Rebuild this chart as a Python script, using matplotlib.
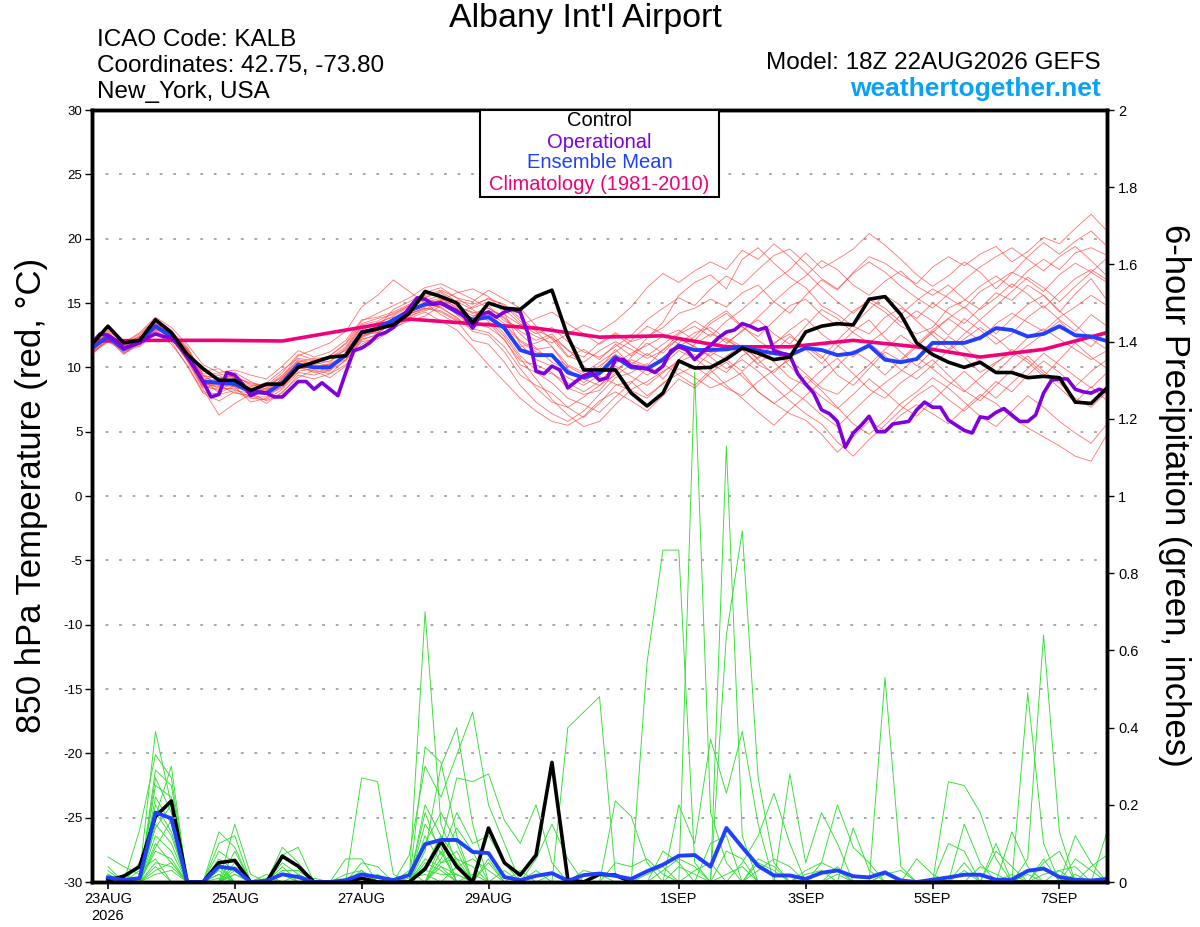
import matplotlib
matplotlib.use("Agg")
import matplotlib.pyplot as plt
import pandas as pd
from matplotlib.patches import Rectangle

plt.rcParams['font.family'] = ['Liberation Sans', 'DejaVu Sans']
plt.rcParams['axes.unicode_minus'] = False

# time axes: GEFS 6-hourly, operational 3-hourly, run 18Z 22AUG2026
times = pd.date_range("2026-08-22 18:00", periods=65, freq="6h")
times_op = pd.date_range("2026-08-22 18:00", periods=129, freq="3h")
clim_times = times[::4]

tick_dates = pd.to_datetime(["2026-08-23", "2026-08-25", "2026-08-27", "2026-08-29",
                             "2026-09-01", "2026-09-03", "2026-09-05", "2026-09-07"])
tick_labels = ["23AUG\n2026", "25AUG", "27AUG", "29AUG", "1SEP", "3SEP", "5SEP", "7SEP"]

# 850 hPa temperature (C)
control_t = [11.8, 13.2, 11.9, 12.1, 13.7, 12.7, 11.0, 9.9, 9.0, 9.0, 8.2, 8.7, 8.7,
             10.0, 10.4, 10.8, 10.9, 12.7, 13.0, 13.3, 14.2, 15.9, 15.5, 15.0, 13.45, 15.0,
             14.6, 14.5, 15.5, 16.0, 12.4, 9.8, 9.8, 9.8, 8.0, 7.0, 8.0, 10.5, 9.95,
             10.0, 10.65, 11.5, 11.1, 10.6, 10.8, 12.75, 13.2, 13.4, 13.3, 15.3, 15.5, 14.1,
             11.9, 11.0, 10.4, 10.0, 10.4, 9.6, 9.6, 9.2, 9.3, 9.2, 7.3, 7.2, 8.4]

mean_t = [11.5, 12.4, 11.4, 12.0, 13.2, 12.4, 10.95, 8.9, 8.8, 8.7, 8.1, 8.0, 8.8,
          10.2, 10.0, 10.0, 10.95, 12.75, 13.0, 13.7, 14.4, 14.9, 15.0, 14.3, 13.7, 13.9,
          13.05, 11.35, 10.95, 10.95, 9.6, 9.2, 9.55, 10.8, 10.0, 9.9, 10.6, 11.7, 11.35,
          11.35, 11.4, 11.6, 11.3, 11.1, 10.95, 11.5, 11.35, 10.95, 11.1, 11.7, 10.6, 10.4,
          10.65, 11.9, 11.9, 11.9, 12.3, 13.05, 12.9, 12.4, 12.6, 13.2, 12.5, 12.4, 12.05]

oper_t = [11.9, 12.6, 12.5, 12.1, 11.5, 11.7, 11.9, 12.3, 12.6, 12.4, 12.3, 11.7, 10.8,
          9.9, 8.9, 7.7, 7.9, 9.6, 9.4, 8.7, 7.8, 8.1, 8.0, 7.7, 7.7, 8.3,
          8.9, 8.9, 8.3, 8.8, 8.3, 7.8, 9.6, 11.3, 11.5, 11.9, 12.5, 12.7, 13.1,
          13.8, 14.6, 15.4, 15.3, 14.9, 15.0, 14.7, 14.4, 13.9, 13.05, 14.1, 14.3, 13.9,
          14.3, 14.5, 14.3, 12.6, 9.7, 9.5, 10.1, 9.8, 8.4, 8.9, 9.35, 9.6, 9.0,
          9.2, 10.6, 10.6, 10.1, 10.0, 9.9, 9.6, 10.1, 11.3, 11.6, 11.35, 10.6, 11.2,
          11.7, 12.3, 12.75, 12.9, 13.4, 13.2, 12.9, 13.1, 11.3, 11.1, 10.95, 9.5, 8.7,
          8.0, 6.7, 6.4, 5.8, 3.8, 4.9, 5.5, 6.2, 5.0, 5.0, 5.6, 5.7, 5.8,
          6.7, 7.3, 6.9, 6.9, 5.9, 5.5, 5.1, 4.9, 6.15, 6.05, 6.5, 6.8, 6.3,
          5.8, 5.8, 6.3, 8.0, 9.0, 9.1, 9.1, 8.3, 8.1, 8.0, 8.3, 8.1]

clim_t = [12.05, 12.1, 12.1, 12.05, 12.9, 13.75, 13.4, 13.05, 12.35, 12.45, 11.6, 11.6,
          12.1, 11.6, 10.8, 11.4, 12.7]

# ensemble members (temperature)
t_m01 = [11.2, 12.0, 11.6, 12.3, 13.4, 12.6, 10.8, 8.6, 8.2, 8.9, 8.4, 7.9, 9.2,
         10.6, 10.3, 10.9, 11.8, 13.4, 13.8, 14.1, 14.8, 15.2, 15.6, 14.8, 14.2, 14.6,
         13.9, 12.8, 12.1, 12.6, 11.3, 10.8, 11.9, 12.7, 12.0, 12.4, 13.1, 14.2, 14.6,
         15.3, 14.7, 15.8, 16.4, 15.1, 14.2, 15.6, 16.8, 16.0, 17.4, 18.6, 18.1, 17.2,
         16.5, 17.8, 18.6, 17.9, 18.8, 19.4, 18.2, 19.0, 20.1, 19.6, 20.8, 21.9, 20.6]
t_m02 = [11.8, 12.6, 11.1, 11.7, 12.9, 12.0, 10.1, 8.0, 7.4, 8.1, 7.6, 7.5, 8.3,
         9.6, 9.4, 9.8, 10.5, 12.1, 12.6, 13.6, 14.4, 15.1, 14.6, 13.9, 12.8, 12.5,
         11.2, 9.4, 8.6, 8.0, 6.9, 6.1, 7.2, 8.6, 8.9, 7.8, 8.7, 9.9, 9.2,
         8.4, 8.9, 9.6, 8.1, 7.2, 6.4, 5.9, 4.8, 3.4, 4.6, 5.8, 5.1, 6.3,
         7.1, 6.4, 5.6, 6.8, 7.9, 7.2, 6.1, 5.3, 4.6, 3.9, 3.1, 2.7, 4.8]
t_m03 = [11.0, 12.2, 11.8, 12.4, 13.0, 12.8, 11.6, 9.4, 9.1, 9.3, 8.7, 8.6, 9.6,
         11.0, 10.6, 10.4, 11.5, 13.2, 13.1, 14.5, 15.1, 15.8, 16.2, 15.4, 15.1, 16.0,
         15.3, 14.6, 13.2, 12.2, 10.8, 11.4, 10.6, 11.8, 10.9, 12.3, 13.5, 15.6, 16.6,
         17.2, 16.1, 18.4, 19.3, 18.1, 17.0, 16.2, 14.8, 14.1, 13.2, 12.6, 13.9, 14.6,
         13.8, 15.0, 14.2, 13.4, 14.6, 15.8, 15.2, 16.4, 15.6, 14.3, 15.7, 16.9, 15.2]
t_m04 = [11.4, 12.8, 11.5, 11.9, 13.5, 12.3, 10.5, 8.3, 6.3, 7.2, 7.9, 7.2, 8.1,
         9.2, 9.8, 9.5, 10.2, 11.8, 12.4, 13.2, 13.9, 14.6, 14.3, 13.6, 12.1, 11.8,
         10.4, 8.6, 7.3, 6.4, 5.8, 6.6, 7.9, 9.2, 9.6, 10.3, 9.1, 10.6, 11.8,
         12.6, 12.1, 11.4, 10.2, 9.6, 10.8, 11.7, 10.9, 9.4, 8.6, 9.9, 11.2, 10.5,
         11.6, 12.8, 11.9, 10.8, 9.6, 10.4, 11.1, 12.3, 13.0, 12.2, 11.4, 10.6, 11.3]
t_m05 = [11.6, 12.1, 11.9, 12.6, 13.8, 12.9, 11.3, 9.2, 8.9, 9.6, 8.9, 8.3, 9.0,
         10.4, 10.7, 10.8, 11.3, 12.9, 13.5, 13.9, 14.2, 14.5, 15.2, 15.8, 16.1, 15.5,
         14.2, 11.8, 10.6, 10.1, 9.2, 8.6, 9.4, 10.3, 11.1, 11.7, 12.4, 12.9, 12.1,
         13.4, 14.2, 13.1, 12.4, 13.6, 14.8, 15.3, 14.1, 13.2, 14.4, 15.1, 14.3, 13.2,
         12.6, 13.1, 14.6, 15.2, 16.3, 17.1, 16.2, 17.5, 18.4, 17.6, 18.9, 19.3, 18.7]
t_m06 = [11.3, 12.3, 11.2, 11.8, 13.1, 12.1, 10.9, 9.0, 9.4, 8.5, 7.3, 7.6, 8.6,
         10.0, 9.7, 9.2, 10.1, 12.4, 12.9, 13.5, 14.6, 15.4, 15.9, 15.1, 14.5, 13.6,
         12.4, 10.7, 9.1, 7.5, 6.3, 5.4, 5.8, 7.1, 8.3, 8.9, 9.7, 10.4, 11.0,
         10.3, 9.6, 10.9, 11.6, 10.4, 9.2, 8.6, 9.8, 10.7, 9.5, 8.3, 7.6, 8.8,
         9.7, 10.6, 9.4, 8.2, 7.4, 8.6, 9.8, 10.9, 9.7, 8.8, 7.6, 6.9, 8.1]
t_m07 = [11.9, 12.5, 11.7, 12.1, 13.3, 12.5, 11.1, 8.8, 8.6, 8.0, 7.8, 8.4, 9.3,
         10.9, 11.4, 11.9, 12.8, 14.7, 15.6, 16.8, 15.9, 15.0, 14.1, 13.4, 13.9, 14.8,
         13.6, 13.1, 12.4, 11.9, 12.6, 13.3, 12.8, 13.6, 14.7, 16.2, 17.3, 16.6, 17.5,
         18.2, 17.6, 19.1, 18.4, 19.6, 18.6, 17.4, 16.2, 15.1, 14.2, 15.3, 14.6, 13.5,
         14.4, 13.6, 12.5, 13.8, 12.9, 11.8, 12.6, 13.9, 14.8, 13.7, 12.8, 14.1, 13.2]
t_m08 = [11.1, 12.0, 11.3, 12.2, 12.8, 12.2, 10.6, 8.5, 8.3, 8.4, 8.2, 7.9, 8.4,
         9.9, 10.1, 10.2, 10.8, 12.2, 12.5, 13.1, 13.6, 14.0, 14.8, 15.2, 14.9, 15.3,
         14.9, 13.8, 12.9, 12.3, 11.4, 10.1, 9.3, 8.7, 8.2, 7.6, 8.8, 9.5, 10.1,
         9.2, 8.4, 7.8, 8.9, 9.8, 10.6, 9.5, 8.4, 7.9, 9.1, 10.2, 11.4, 12.5,
         11.6, 12.7, 13.8, 12.9, 12.1, 13.4, 14.2, 13.5, 12.8, 13.9, 14.7, 15.6, 14.8]
t_m09 = [11.7, 12.2, 11.0, 12.0, 13.0, 12.4, 11.4, 9.7, 9.9, 9.1, 8.5, 8.8, 9.8,
         10.7, 10.5, 10.9, 11.9, 13.6, 14.2, 14.8, 15.4, 16.2, 16.5, 15.9, 15.3, 14.6,
         13.8, 12.6, 11.5, 10.4, 9.8, 9.1, 8.6, 9.8, 10.6, 10.1, 11.4, 12.2, 11.6,
         10.9, 11.8, 12.9, 13.7, 12.6, 11.8, 13.2, 14.5, 13.8, 12.7, 11.9, 12.8, 14.1,
         15.2, 16.1, 15.4, 14.6, 15.9, 16.6, 17.4, 16.8, 15.9, 17.2, 18.1, 17.4, 16.6]
t_m10 = [11.5, 12.7, 11.6, 11.6, 12.7, 11.8, 10.2, 8.1, 7.9, 8.2, 8.0, 7.4, 8.0,
         9.4, 9.1, 9.5, 10.6, 12.0, 12.2, 13.0, 13.8, 14.3, 13.6, 12.9, 11.6, 10.2,
         8.9, 7.6, 6.6, 5.8, 5.5, 6.2, 7.4, 8.1, 7.4, 6.6, 7.8, 9.1, 8.4,
         9.6, 10.4, 9.3, 8.1, 7.2, 8.1, 9.3, 8.2, 6.9, 5.6, 4.8, 5.9, 7.2,
         8.1, 9.2, 8.4, 7.3, 6.2, 5.4, 6.6, 7.8, 6.9, 5.8, 4.9, 4.1, 5.6]
t_m11 = [11.0, 12.4, 11.9, 12.7, 13.9, 13.1, 11.8, 10.2, 9.6, 9.8, 9.4, 9.1, 10.1,
         11.3, 10.8, 11.2, 12.1, 13.7, 13.9, 14.3, 14.9, 15.3, 15.0, 14.4, 13.6, 14.1,
         12.9, 11.6, 11.9, 12.4, 10.9, 10.4, 11.3, 12.0, 11.4, 10.7, 11.3, 12.6, 13.2,
         12.4, 13.6, 14.5, 15.6, 16.7, 17.6, 18.9, 17.7, 18.4, 19.2, 20.4, 19.5, 18.4,
         17.2, 16.3, 17.1, 18.2, 17.4, 16.1, 17.3, 18.6, 19.7, 18.8, 19.8, 20.6, 19.4]
t_m12 = [11.2, 12.1, 11.4, 11.9, 13.2, 12.7, 11.2, 9.1, 8.0, 8.6, 8.1, 8.0, 8.5,
         9.7, 9.9, 9.9, 10.9, 12.6, 12.7, 13.4, 14.1, 14.7, 15.3, 14.7, 14.3, 13.9,
         12.6, 10.9, 9.8, 9.5, 8.8, 8.1, 8.9, 10.1, 9.3, 8.6, 9.6, 10.6, 9.9,
         11.2, 10.6, 9.7, 10.8, 11.9, 12.6, 11.4, 10.3, 11.6, 12.8, 13.7, 12.3, 11.2,
         10.1, 11.3, 12.4, 11.6, 10.4, 9.6, 10.8, 11.7, 12.6, 13.6, 12.4, 11.6, 12.9]
t_m13 = [11.6, 12.9, 11.8, 12.3, 13.6, 12.2, 10.7, 8.4, 8.7, 9.0, 8.3, 8.2, 9.1,
         10.3, 10.0, 9.7, 11.2, 12.9, 12.8, 13.8, 14.5, 15.0, 15.4, 14.6, 14.0, 14.3,
         13.4, 12.1, 11.4, 11.6, 10.2, 9.6, 10.4, 11.2, 12.1, 13.2, 12.6, 11.8, 10.6,
         11.4, 12.3, 11.6, 10.7, 11.8, 12.9, 13.8, 12.6, 11.7, 10.8, 11.9, 10.9, 9.8,
         9.1, 10.2, 11.3, 12.2, 13.1, 12.3, 11.2, 10.4, 9.3, 10.6, 11.9, 10.8, 9.9]
t_m14 = [11.3, 12.4, 11.4, 12.0, 13.1, 12.5, 11.2, 9.3, 9.2, 9.4, 8.6, 8.5, 9.4,
         10.5, 10.2, 10.5, 11.4, 13.1, 13.4, 14.0, 14.7, 15.5, 15.8, 14.9, 13.4, 13.1,
         12.2, 10.2, 9.6, 8.8, 7.6, 7.1, 6.5, 7.7, 8.8, 9.9, 10.8, 11.6, 12.4,
         13.6, 14.4, 13.2, 12.1, 11.3, 10.1, 8.8, 7.7, 6.8, 7.9, 9.1, 8.1, 7.0,
         6.2, 7.4, 8.6, 9.7, 8.6, 7.6, 8.8, 9.9, 11.1, 10.2, 9.3, 8.4, 9.6]
t_m15 = [11.8, 12.3, 11.1, 11.9, 13.4, 12.4, 10.9, 8.7, 8.5, 8.8, 8.0, 8.1, 8.9,
         10.1, 9.6, 9.9, 11.1, 12.7, 13.2, 13.6, 14.3, 14.8, 15.1, 14.1, 13.2, 14.4,
         14.1, 13.3, 13.8, 14.3, 13.4, 12.6, 11.8, 12.6, 11.7, 10.9, 11.8, 12.7, 13.6,
         12.8, 11.9, 12.8, 13.9, 15.1, 16.2, 17.1, 18.3, 17.6, 16.4, 15.6, 16.7, 17.5,
         16.3, 15.6, 16.4, 15.3, 14.5, 15.4, 16.5, 15.7, 14.6, 15.8, 16.9, 17.6, 16.8]
t_m16 = [11.4, 12.2, 11.6, 12.2, 13.3, 12.3, 10.6, 8.9, 9.1, 8.8, 8.4, 8.3, 8.6,
         10.0, 10.4, 10.1, 10.6, 12.4, 13.0, 13.7, 14.6, 14.9, 14.7, 13.8, 13.0, 12.7,
         11.6, 9.9, 8.4, 7.3, 6.9, 7.7, 8.6, 9.4, 10.2, 11.1, 10.3, 9.4, 8.6,
         9.8, 10.9, 11.7, 10.6, 9.4, 8.3, 7.4, 6.3, 5.4, 6.6, 7.8, 8.8, 9.7,
         10.8, 9.9, 8.9, 8.1, 9.2, 10.3, 11.4, 10.6, 9.5, 8.4, 7.3, 8.5, 7.4]
t_m17 = [11.5, 12.6, 11.3, 12.1, 13.2, 12.4, 11.0, 8.8, 8.4, 8.3, 7.7, 7.7, 8.8,
         10.2, 10.3, 10.7, 11.6, 13.3, 13.6, 14.2, 14.8, 15.6, 16.0, 15.4, 14.6, 15.1,
         14.5, 13.4, 12.6, 13.1, 12.0, 11.2, 10.8, 11.6, 12.5, 13.7, 14.6, 15.4, 14.8,
         16.1, 17.1, 16.4, 17.6, 18.7, 19.2, 18.1, 16.9, 16.1, 17.3, 18.2, 17.4, 16.3,
         15.4, 14.6, 15.7, 16.8, 17.8, 18.6, 19.3, 18.4, 17.5, 18.6, 19.4, 18.3, 17.1]
t_m18 = [11.7, 12.4, 11.5, 11.8, 12.9, 12.6, 11.5, 9.5, 9.5, 9.2, 8.8, 8.6, 9.2,
         10.4, 9.9, 10.3, 10.9, 12.3, 12.9, 13.3, 14.0, 14.4, 14.9, 14.2, 14.7, 15.4,
         14.8, 13.6, 12.8, 11.6, 9.9, 8.8, 9.9, 11.4, 10.2, 9.4, 10.2, 11.3, 10.7,
         9.8, 8.6, 7.6, 6.5, 5.5, 6.7, 7.8, 8.9, 10.1, 11.3, 10.5, 9.4, 10.6,
         11.8, 12.9, 13.8, 14.7, 13.6, 12.6, 13.8, 14.9, 15.6, 14.4, 13.3, 12.2, 11.4]
t_m19 = [11.2, 12.5, 11.7, 12.5, 13.7, 12.8, 11.4, 9.4, 8.6, 8.5, 8.1, 8.4, 9.0,
         10.3, 10.1, 10.0, 10.8, 12.5, 12.7, 13.5, 14.2, 14.6, 14.4, 13.7, 13.1, 13.5,
         12.1, 10.5, 10.2, 9.6, 8.4, 7.9, 8.2, 9.6, 10.8, 11.9, 11.1, 12.3, 11.6,
         10.8, 9.9, 10.6, 9.7, 8.5, 7.4, 6.4, 5.6, 4.2, 3.1, 4.4, 5.5, 6.7,
         7.8, 8.6, 7.5, 6.6, 7.7, 8.9, 8.1, 9.4, 10.5, 9.6, 8.5, 9.7, 10.6]
t_m20 = [11.5, 12.3, 11.4, 12.4, 13.0, 12.3, 10.8, 8.6, 8.8, 8.9, 8.3, 8.1, 8.7,
         10.1, 10.0, 10.2, 11.0, 12.8, 13.1, 13.8, 14.5, 15.0, 15.2, 14.5, 13.8, 14.1,
         13.2, 12.0, 11.2, 10.9, 10.1, 9.4, 10.1, 11.0, 10.4, 10.0, 10.7, 11.9, 12.7,
         13.1, 12.2, 11.4, 10.3, 11.2, 12.4, 11.6, 10.7, 12.1, 13.3, 14.5, 15.6, 14.8,
         13.6, 12.5, 11.4, 12.6, 13.7, 14.8, 15.9, 17.0, 16.2, 15.1, 16.3, 17.4, 18.5]

temp_members = [t_m01, t_m02, t_m03, t_m04, t_m05, t_m06, t_m07, t_m08, t_m09, t_m10,
                t_m11, t_m12, t_m13, t_m14, t_m15, t_m16, t_m17, t_m18, t_m19, t_m20]

# 6-hour precipitation (inches), valid from 00Z 23AUG
control_p = [0.005, 0.015, 0.04, 0.17, 0.21, 0.0, 0.0, 0.05, 0.056, 0.0, 0.0, 0.067, 0.041,
             0.0, 0.0, 0.0, 0.01, 0.0, 0.0, 0.0, 0.034, 0.105, 0.04, 0.0, 0.14, 0.05,
             0.018, 0.07, 0.31, 0.007, 0.0, 0.02, 0.018, 0.0, 0.0, 0.0, 0.0, 0.0,
             0.0, 0.0, 0.0, 0.0, 0.0, 0.0, 0.0, 0.0, 0.0, 0.0, 0.0, 0.0, 0.0,
             0.0, 0.0, 0.0, 0.0, 0.0, 0.0, 0.0, 0.0, 0.0, 0.0, 0.0, 0.0, 0.0]
mean_p = [0.012, 0.005, 0.01, 0.18, 0.165, 0.0, 0.0, 0.04, 0.034, 0.0, 0.003, 0.02, 0.013,
          0.0, 0.0, 0.005, 0.02, 0.013, 0.005, 0.018, 0.098, 0.109, 0.109, 0.078, 0.075, 0.013,
          0.005, 0.016, 0.023, 0.003, 0.018, 0.022, 0.016, 0.008, 0.028, 0.045, 0.068, 0.07,
          0.04, 0.14, 0.09, 0.042, 0.017, 0.017, 0.008, 0.024, 0.03, 0.015, 0.012, 0.025, 0.004,
          0.0, 0.006, 0.012, 0.019, 0.019, 0.006, 0.006, 0.029, 0.035, 0.013, 0.006, 0.004, 0.008]

# ensemble members (precip), only the non-zero steps: {step: inches}
p_m01 = {1: 0.065, 2: 0.04, 3: 0.02, 4: 0.39, 5: 0.2, 8: 0.06, 9: 0.03, 21: 0.70, 22: 0.15,
         23: 0.05, 38: 1.32, 39: 0.18, 40: 0.05, 50: 0.02}
p_m02 = {3: 0.135, 4: 0.33, 5: 0.27, 9: 0.15, 10: 0.02, 21: 0.35, 22: 0.31, 23: 0.12,
         30: 0.40, 31: 0.44, 32: 0.48, 33: 0.02, 40: 1.13, 41: 0.12, 59: 0.49, 60: 0.1}
p_m03 = {1: 0.03, 4: 0.29, 5: 0.25, 8: 0.13, 9: 0.09, 12: 0.09, 13: 0.05, 17: 0.27, 18: 0.26,
         19: 0.02, 21: 0.08, 22: 0.3, 23: 0.40, 24: 0.15, 35: 0.57, 36: 0.86, 37: 0.86, 38: 0.05}
p_m04 = {4: 0.25, 5: 0.22, 8: 0.1, 9: 0.12, 12: 0.07, 13: 0.09, 20: 0.07, 21: 0.3, 22: 0.22,
         23: 0.33, 24: 0.44, 25: 0.2, 26: 0.1, 40: 0.64, 41: 0.91, 42: 0.27, 43: 0.05}
p_m05 = {2: 0.02, 4: 0.22, 5: 0.15, 8: 0.08, 9: 0.05, 11: 0.02, 16: 0.06, 17: 0.06, 22: 0.1,
         23: 0.27, 24: 0.26, 25: 0.28, 26: 0.16, 27: 0.1, 28: 0.2, 29: 0.05, 50: 0.53, 51: 0.04}
p_m06 = {4: 0.2, 5: 0.13, 9: 0.03, 12: 0.04, 17: 0.05, 18: 0.04, 21: 0.18, 22: 0.07, 23: 0.18,
         24: 0.1, 25: 0.12, 26: 0.05, 37: 0.2, 38: 0.1, 39: 0.37, 40: 0.23, 41: 0.39, 42: 0.15,
         59: 0.06, 60: 0.64, 61: 0.13}
p_m07 = {1: 0.02, 3: 0.05, 4: 0.17, 5: 0.3, 8: 0.04, 12: 0.03, 13: 0.03, 21: 0.12, 22: 0.05,
         23: 0.08, 25: 0.06, 28: 0.06, 29: 0.15, 30: 0.06, 33: 0.21, 34: 0.17, 35: 0.05,
         44: 0.28, 45: 0.05, 46: 0.18, 47: 0.1}
p_m08 = {4: 0.15, 5: 0.1, 8: 0.02, 16: 0.02, 17: 0.03, 20: 0.03, 22: 0.05, 23: 0.06, 24: 0.04,
         27: 0.03, 41: 0.05, 42: 0.12, 43: 0.23, 44: 0.1, 54: 0.26, 55: 0.25, 56: 0.18, 57: 0.06}
p_m09 = {4: 0.12, 5: 0.08, 9: 0.05, 13: 0.02, 21: 0.04, 22: 0.12, 23: 0.06, 26: 0.03, 46: 0.05,
         47: 0.2, 48: 0.09, 49: 0.05, 55: 0.15, 56: 0.05, 58: 0.13, 59: 0.04, 62: 0.12, 63: 0.05}
p_m10 = {4: 0.1, 5: 0.05, 8: 0.03, 12: 0.02, 18: 0.02, 21: 0.06, 22: 0.04, 36: 0.03, 37: 0.06,
         38: 0.04, 48: 0.14, 49: 0.03, 54: 0.1, 55: 0.08, 57: 0.1, 60: 0.05, 61: 0.08, 64: 0.13}
p_m11 = {1: 0.04, 4: 0.05, 5: 0.04, 9: 0.02, 11: 0.01, 21: 0.03, 22: 0.02, 23: 0.02, 33: 0.05,
         34: 0.04, 35: 0.06, 36: 0.02, 42: 0.03, 43: 0.06, 44: 0.04, 52: 0.06, 53: 0.02,
         63: 0.04, 64: 0.07}
p_m12 = {4: 0.08, 5: 0.06, 8: 0.02, 14: 0.01, 17: 0.03, 22: 0.08, 24: 0.02, 31: 0.03, 32: 0.02,
         38: 0.03, 39: 0.05, 45: 0.03, 46: 0.05, 47: 0.03, 56: 0.04, 57: 0.02, 61: 0.03, 62: 0.04}
p_m13 = {3: 0.03, 4: 0.06, 9: 0.02, 21: 0.05, 22: 0.03, 40: 0.02, 41: 0.04, 50: 0.02, 51: 0.03,
         59: 0.02}
p_m14 = {4: 0.03, 5: 0.05, 12: 0.02, 23: 0.04, 24: 0.06, 25: 0.03, 35: 0.02, 36: 0.04, 47: 0.02,
         55: 0.03}
p_m15 = {2: 0.01, 4: 0.04, 8: 0.01, 20: 0.01, 21: 0.02, 29: 0.02, 30: 0.01, 42: 0.05, 43: 0.03,
         53: 0.01, 60: 0.02, 61: 0.03}
p_m16 = {4: 0.02, 5: 0.03, 22: 0.04, 23: 0.02, 37: 0.04, 38: 0.02, 45: 0.02, 46: 0.03, 58: 0.02,
         62: 0.02}
p_m17 = {4: 0.18, 5: 0.12, 9: 0.08, 17: 0.02, 21: 0.1, 22: 0.18, 23: 0.1, 40: 0.08, 41: 0.06,
         55: 0.05}
p_m18 = {1: 0.02, 4: 0.27, 5: 0.18, 8: 0.05, 21: 0.2, 22: 0.12, 25: 0.05, 39: 0.1, 40: 0.12,
         47: 0.04, 60: 0.06}
p_m19 = {4: 0.14, 5: 0.2, 12: 0.05, 13: 0.02, 22: 0.06, 23: 0.14, 24: 0.08, 36: 0.08, 37: 0.05,
         57: 0.08, 58: 0.04}
p_m20 = {4: 0.09, 5: 0.16, 9: 0.04, 21: 0.15, 22: 0.09, 28: 0.03, 42: 0.06, 43: 0.04, 62: 0.06,
         63: 0.03}

precip_members = [p_m01, p_m02, p_m03, p_m04, p_m05, p_m06, p_m07, p_m08, p_m09, p_m10,
                  p_m11, p_m12, p_m13, p_m14, p_m15, p_m16, p_m17, p_m18, p_m19, p_m20]

RED = "#ff4444"
GREEN = "#33dd33"
PURPLE = "#8000dd"
BLUE = "#2040ff"
PINK = "#f0007a"
SKY = "#0aa2f5"

fig = plt.figure(figsize=(12, 9.27), dpi=100)
ax = fig.add_axes([0.0767, 0.0485, 0.8458, 0.8328])
ax2 = ax.twinx()
ax.set_zorder(2)
ax.patch.set_visible(False)
ax2.set_zorder(1)

# precipitation (right axis)
p_times = times[1:]
for m in precip_members:
    vals = [m.get(i, 0.0) for i in range(1, 65)]
    ax2.plot(p_times, vals, color=GREEN, lw=0.65)
ax2.plot(p_times, control_p, color="black", lw=2.6)
ax2.plot(p_times, mean_p, color=BLUE, lw=2.8)

# temperature (left axis)
for m in temp_members:
    ax.plot(times, m, color=RED, lw=0.6, alpha=0.75)
ax.plot(clim_times, clim_t, color=PINK, lw=2.6)
ax.plot(times, mean_t, color=BLUE, lw=2.8)
ax.plot(times_op, oper_t, color=PURPLE, lw=2.6)
ax.plot(times, control_t, color="black", lw=2.6)

ax.set_xlim(times[0], times[-1])
ax.set_ylim(-30, 30)
ax.set_yticks(range(-30, 31, 5))
ax.grid(axis="y", color="#a0a0a0", linestyle=(0, (1.5, 6)), lw=1.3)
ax2.set_ylim(0, 2)
ax2.set_yticks([0, 0.2, 0.4, 0.6, 0.8, 1.0, 1.2, 1.4, 1.6, 1.8, 2.0])
ax2.set_yticklabels(["0", "0.2", "0.4", "0.6", "0.8", "1", "1.2", "1.4", "1.6", "1.8", "2"])

ax.set_xticks(tick_dates)
ax.set_xticklabels(tick_labels, fontsize=10.5, linespacing=1.25)
ax.tick_params(axis="x", direction="out", length=5, width=1.2, pad=2)
ax.tick_params(axis="y", direction="out", length=5, width=1.0, labelsize=9.5, pad=2)
ax2.tick_params(axis="y", direction="out", length=5, width=1.0, labelsize=10.5, pad=3)
for a in (ax, ax2):
    for s in a.spines.values():
        s.set_linewidth(2.5)

# legend box
box = Rectangle((0.4, 0.7875), 0.199, 0.0938, transform=fig.transFigure,
                facecolor="white", edgecolor="black", lw=1.5, zorder=5)
fig.patches.append(box)
leg = [("Control", "black", 121), ("Operational", PURPLE, 142),
       ("Ensemble Mean", BLUE, 163), ("Climatology (1981-2010)", PINK, 185)]
for txt, col, ypx in leg:
    fig.text(0.4995, 1 - ypx / 927, txt, color=col, fontsize=14.5,
             ha="center", va="center", zorder=6)

# header
fig.text(0.4875, 1 - 19 / 927, "Albany Int'l Airport", fontsize=24.5, ha="center", va="center")
fig.text(97 / 1200, 1 - 40 / 927, "ICAO Code: KALB", fontsize=17.5, va="center")
fig.text(97 / 1200, 1 - 66 / 927, "Coordinates: 42.75, -73.80", fontsize=17.5, va="center")
fig.text(97 / 1200, 1 - 92 / 927, "New_York, USA", fontsize=17.5, va="center")
fig.text(1101 / 1200, 1 - 63 / 927, "Model: 18Z 22AUG2026 GEFS", fontsize=17.5,
         ha="right", va="center")
fig.text(1101 / 1200, 1 - 89 / 927, "weathertogether.net", fontsize=19, fontweight="bold",
         color=SKY, ha="right", va="center")

fig.text(32 / 1200, 0.466, "850 hPa Temperature (red, °C)", fontsize=25,
         rotation=90, ha="center", va="center")
fig.text(1175 / 1200, 0.466, "6-hour Precipitation (green, inches)", fontsize=25,
         rotation=-90, ha="center", va="center")

fig.savefig("out.png", dpi=100)
